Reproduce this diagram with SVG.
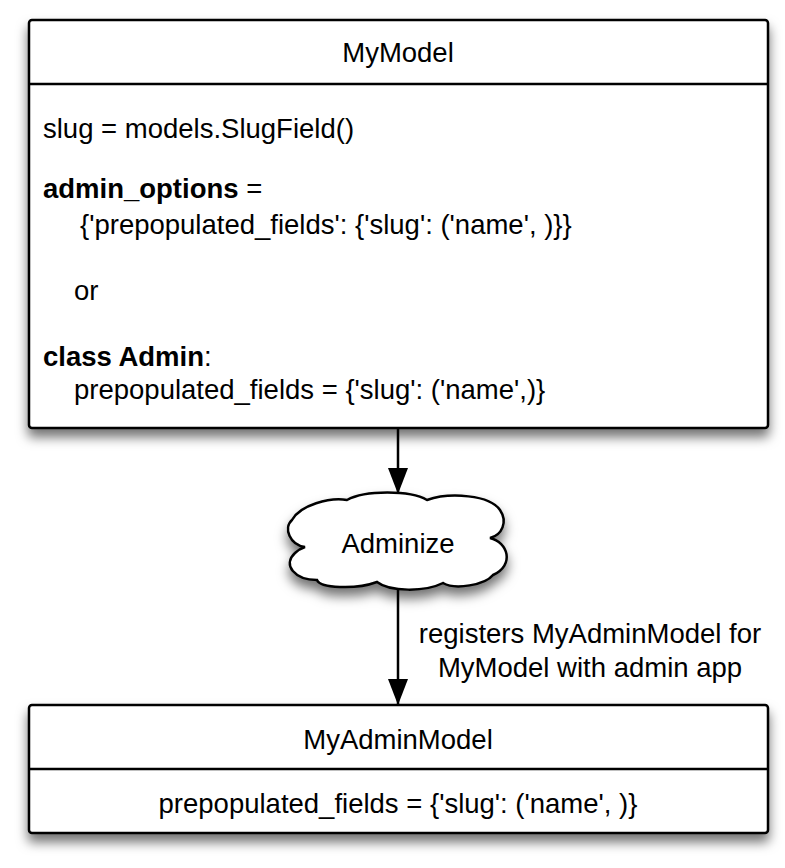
<svg xmlns="http://www.w3.org/2000/svg" width="785" height="868" viewBox="0 0 785 868">
<defs>
<filter id="sh" x="-10%" y="-10%" width="120%" height="140%">
<feDropShadow dx="0" dy="8" stdDeviation="6" flood-color="#000" flood-opacity="0.55"/>
</filter>
<marker id="ah" markerWidth="26" markerHeight="20" refX="25" refY="10" orient="auto" markerUnits="userSpaceOnUse">
<path d="M0,0 L26,10 L0,20 Z" fill="#000"/>
</marker>
<style>
.box{fill:#fff;stroke:#000;stroke-width:2.5}
.div{stroke:#000;stroke-width:2.5}
.t{font-family:"Liberation Sans",Arial,sans-serif;font-size:27.5px;fill:#000}
.b{font-weight:bold}
.c{text-anchor:middle}
.ln{stroke:#000;stroke-width:2.5;fill:none}
</style>
</defs>
<g id="connectors">
<line class="ln" x1="398" y1="429" x2="398" y2="493" marker-end="url(#ah)"/>
<line class="ln" x1="398" y1="588" x2="398" y2="704" marker-end="url(#ah)"/>
<text class="t c" x="590" y="643">registers MyAdminModel for</text>
<text class="t c" x="590" y="677">MyModel with admin app</text>
</g>
<g id="mymodel">
<rect class="box" x="29" y="20" width="739" height="408" rx="3" filter="url(#sh)"/>
<line class="div" x1="29" y1="84" x2="768" y2="84"/>
<text class="t c" x="398" y="62">MyModel</text>
<text class="t" x="43" y="138">slug = models.SlugField()</text>
<text class="t" x="43" y="198"><tspan class="b">admin_options</tspan> =</text>
<text class="t" x="80" y="234">{'prepopulated_fields': {'slug': ('name', )}}</text>
<text class="t" x="74" y="300">or</text>
<text class="t" x="43" y="366"><tspan class="b">class Admin</tspan>:</text>
<text class="t" x="74" y="399">prepopulated_fields = {'slug': ('name',)}</text>
</g>
<g id="adminize">
<path class="box" filter="url(#sh)" d="M347,500 C365,490 410,490 427,500 C450,492 490,495 500,510 C508,522 502,535 490,538 C508,542 515,565 493,575 C485,585 455,590 443,583 C425,592 390,592 377,582 C355,590 320,588 317,580 C295,580 282,565 295,553 C298,550 302,548 305,547 C290,545 283,528 292,520 C300,505 330,497 347,500 Z"/>
<text class="t c" x="398" y="553">Adminize</text>
</g>
<g id="myadminmodel">
<rect class="box" x="29" y="705" width="739" height="128" rx="3" filter="url(#sh)"/>
<line class="div" x1="29" y1="769" x2="768" y2="769"/>
<text class="t c" x="398" y="749">MyAdminModel</text>
<text class="t c" x="398" y="813">prepopulated_fields = {'slug': ('name', )}</text>
</g>
</svg>
